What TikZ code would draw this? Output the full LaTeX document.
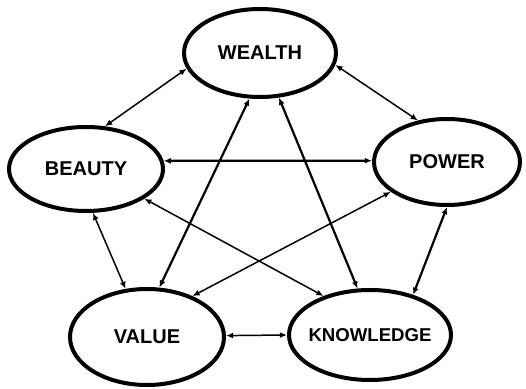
\documentclass[tikz,border=0pt]{standalone}
\usepackage{fontspec}
\setmainfont{Liberation Sans}
\usetikzlibrary{shapes.geometric,arrows.meta}

\tikzset{
  topic/.style={ellipse, draw, line width=2pt, inner sep=0pt,
    font=\bfseries\fontsize{10}{12}\selectfont},
  link/.style={>={Latex[length=3.6pt,width=3pt]}, <->, line width=0.75pt},
  strong link/.style={link, line width=1.1pt}
}

\begin{document}
\begin{tikzpicture}[x=0.5pt, y=-0.5pt]
    \useasboundingbox (0,0) rectangle (526,389);

    % Topics
    \node[topic, minimum width=76pt, minimum height=44pt] (wealth) at (260,53) {\makebox[0pt]{WEALTH}};
    \node[topic, minimum width=77pt, minimum height=42pt] (beauty) at (86,169) {\makebox[0pt]{BEAUTY}};
    \node[topic, minimum width=73pt, minimum height=43pt] (power) at (447,162) {\makebox[0pt]{POWER}};
    \node[topic, minimum width=77pt, minimum height=48pt] (value) at (147,337) {\makebox[0pt]{VALUE}};
    \node[topic, minimum width=81pt, minimum height=45pt,
      font=\bfseries\fontsize{9.3}{11}\selectfont] (knowledge) at (370,335) {\makebox[0pt]{KNOWLEDGE}};

    % Outer ring
    \draw[link] (beauty.66) -- (wealth.192);
    \draw[link] (wealth.351) -- (power.125);
    \draw[strong link] (power.270) -- (knowledge.43);
    \draw[link] (value.1) -- (knowledge.180);
    \draw[link] (beauty.279) -- (value.114);

    % Inner star
    \draw[strong link] (beauty.6) -- (power.179);
    \draw[strong link] (wealth.257) -- (value.76);
    \draw[strong link] (wealth.293) -- (knowledge.105);
    \draw[link] (beauty.333) -- (knowledge.140);
    \draw[link] (power.208) -- (value.42);
\end{tikzpicture}
\end{document}
